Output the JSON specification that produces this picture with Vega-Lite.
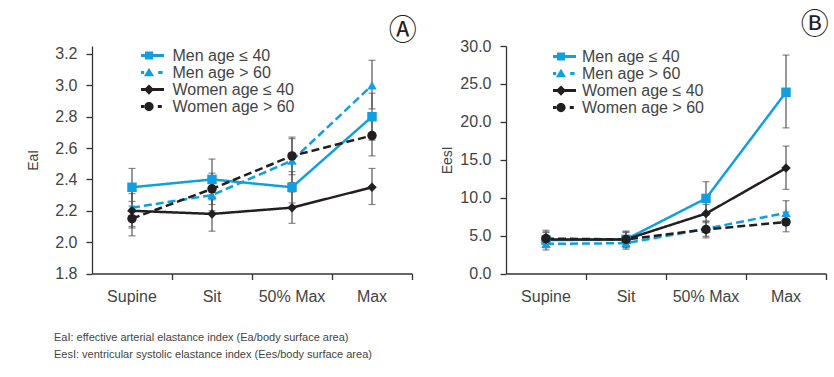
{
  "$schema": "https://vega.github.io/schema/vega-lite/v6.json",
  "padding": {"left": 26, "top": 12, "right": 0, "bottom": 0},
  "background": "white",
  "datasets": {
    "eai": [
      {"pos": "Supine", "series": "Men age ≤ 40", "v": 2.35, "lo": 2.23, "hi": 2.47},
      {"pos": "Sit", "series": "Men age ≤ 40", "v": 2.40, "lo": 2.27, "hi": 2.53},
      {"pos": "50% Max", "series": "Men age ≤ 40", "v": 2.35, "lo": 2.25, "hi": 2.45},
      {"pos": "Max", "series": "Men age ≤ 40", "v": 2.80, "lo": 2.65, "hi": 2.95},
      {"pos": "Supine", "series": "Men age > 60", "v": 2.22, "lo": 2.10, "hi": 2.34},
      {"pos": "Sit", "series": "Men age > 60", "v": 2.30, "lo": 2.20, "hi": 2.40},
      {"pos": "50% Max", "series": "Men age > 60", "v": 2.52, "lo": 2.38, "hi": 2.66},
      {"pos": "Max", "series": "Men age > 60", "v": 3.00, "lo": 2.85, "hi": 3.16},
      {"pos": "Supine", "series": "Women age ≤ 40", "v": 2.20, "lo": 2.09, "hi": 2.31},
      {"pos": "Sit", "series": "Women age ≤ 40", "v": 2.18, "lo": 2.07, "hi": 2.29},
      {"pos": "50% Max", "series": "Women age ≤ 40", "v": 2.22, "lo": 2.12, "hi": 2.32},
      {"pos": "Max", "series": "Women age ≤ 40", "v": 2.35, "lo": 2.24, "hi": 2.47},
      {"pos": "Supine", "series": "Women age > 60", "v": 2.15, "lo": 2.04, "hi": 2.26},
      {"pos": "Sit", "series": "Women age > 60", "v": 2.34, "lo": 2.24, "hi": 2.44},
      {"pos": "50% Max", "series": "Women age > 60", "v": 2.55, "lo": 2.43, "hi": 2.67},
      {"pos": "Max", "series": "Women age > 60", "v": 2.68, "lo": 2.55, "hi": 2.81}
    ],
    "eesi": [
      {"pos": "Supine", "series": "Men age ≤ 40", "v": 4.4, "lo": 3.4, "hi": 5.4},
      {"pos": "Sit", "series": "Men age ≤ 40", "v": 4.5, "lo": 3.5, "hi": 5.5},
      {"pos": "50% Max", "series": "Men age ≤ 40", "v": 9.9, "lo": 7.7, "hi": 12.1},
      {"pos": "Max", "series": "Men age ≤ 40", "v": 23.9, "lo": 19.2, "hi": 28.8},
      {"pos": "Supine", "series": "Men age > 60", "v": 3.9, "lo": 3.1, "hi": 4.7},
      {"pos": "Sit", "series": "Men age > 60", "v": 4.0, "lo": 3.2, "hi": 4.8},
      {"pos": "50% Max", "series": "Men age > 60", "v": 5.9, "lo": 4.9, "hi": 6.9},
      {"pos": "Max", "series": "Men age > 60", "v": 8.0, "lo": 6.4, "hi": 9.6},
      {"pos": "Supine", "series": "Women age ≤ 40", "v": 4.5, "lo": 3.5, "hi": 5.5},
      {"pos": "Sit", "series": "Women age ≤ 40", "v": 4.5, "lo": 3.6, "hi": 5.4},
      {"pos": "50% Max", "series": "Women age ≤ 40", "v": 7.9, "lo": 6.7, "hi": 9.1},
      {"pos": "Max", "series": "Women age ≤ 40", "v": 13.9, "lo": 11.1, "hi": 16.8},
      {"pos": "Supine", "series": "Women age > 60", "v": 4.6, "lo": 3.5, "hi": 5.7},
      {"pos": "Sit", "series": "Women age > 60", "v": 4.5, "lo": 3.4, "hi": 5.6},
      {"pos": "50% Max", "series": "Women age > 60", "v": 5.8, "lo": 4.7, "hi": 6.9},
      {"pos": "Max", "series": "Women age > 60", "v": 6.8, "lo": 5.5, "hi": 8.1}
    ]
  },
  "title": {
    "text": ["EaI: effective arterial elastance index (Ea/body surface area)", "EesI: ventricular systolic elastance index (Ees/body surface area)"],
    "orient": "bottom", "anchor": "start", "font": "Liberation Sans", "fontSize": 11, "fontWeight": "normal",
    "color": "#444", "offset": 27, "lineHeight": 17, "dx": 28
  },
  "hconcat": [
    {
      "width": 320, "height": 227.5,
      "data": {"name": "eai"},
      "title": {"text": "Ⓐ", "anchor": "end", "font": "Noto Sans CJK KR", "fontSize": 28, "fontWeight": "normal", "color": "#222", "offset": -0.5, "dx": 4},
      "encoding": {
        "x": {"field": "pos", "type": "nominal", "sort": ["Supine", "Sit", "50% Max", "Max"],
          "scale": {"paddingInner": 0, "paddingOuter": 0},
          "axis": {"title": null, "labelAngle": 0, "bandPosition": 1}}
      },
      "layer": [
        {"mark": {"type": "rule", "color": "#555", "strokeWidth": 1.2},
         "encoding": {"y": {"field": "lo", "type": "quantitative", "scale": {"domain": [1.8, 3.251], "nice": false, "zero": false},
           "axis": {"values": [1.8, 2.0, 2.2, 2.4, 2.6, 2.8, 3.0, 3.2], "format": ".1f", "title": "EaI", "titleX": -52, "labelOverlap": false}},
           "y2": {"field": "hi"}}},
        {"mark": {"type": "tick", "color": "#555", "thickness": 1.2, "size": 7}, "encoding": {"y": {"field": "lo", "type": "quantitative",
           "axis": {"values": [1.8, 2.0, 2.2, 2.4, 2.6, 2.8, 3.0, 3.2], "format": ".1f", "title": "EaI", "titleX": -52, "labelOverlap": false}}}},
        {"mark": {"type": "tick", "color": "#555", "thickness": 1.2, "size": 7}, "encoding": {"y": {"field": "hi", "type": "quantitative",
           "axis": {"values": [1.8, 2.0, 2.2, 2.4, 2.6, 2.8, 3.0, 3.2], "format": ".1f", "title": "EaI", "titleX": -52, "labelOverlap": false}}}},
        {"mark": {"type": "line", "strokeWidth": 2.5},
         "encoding": {"y": {"field": "v", "type": "quantitative",
           "axis": {"values": [1.8, 2.0, 2.2, 2.4, 2.6, 2.8, 3.0, 3.2], "format": ".1f", "title": "EaI", "titleX": -52, "labelOverlap": false}},
           "color": {"field": "series", "type": "nominal", "legend": null, "scale": {"domain": ["Men age ≤ 40", "Men age > 60", "Women age ≤ 40", "Women age > 60"], "range": ["#11a0df", "#11a0df", "#231f20", "#231f20"]}},
           "strokeDash": {"field": "series", "type": "nominal", "legend": null, "scale": {"domain": ["Men age ≤ 40", "Men age > 60", "Women age ≤ 40", "Women age > 60"], "range": [[1, 0], [8, 4], [1, 0], [8, 4]]}}}},
        {"mark": {"type": "point", "filled": true, "opacity": 1, "size": 90},
         "encoding": {"y": {"field": "v", "type": "quantitative",
           "axis": {"values": [1.8, 2.0, 2.2, 2.4, 2.6, 2.8, 3.0, 3.2], "format": ".1f", "title": "EaI", "titleX": -52, "labelOverlap": false}},
           "color": {"field": "series", "type": "nominal", "legend": null, "scale": {"domain": ["Men age ≤ 40", "Men age > 60", "Women age ≤ 40", "Women age > 60"], "range": ["#11a0df", "#11a0df", "#231f20", "#231f20"]}},
           "shape": {"field": "series", "type": "nominal", "legend": null, "scale": {"domain": ["Men age ≤ 40", "Men age > 60", "Women age ≤ 40", "Women age > 60"], "range": ["square", "triangle-up", "diamond", "circle"]}}}},
        {"mark": {"type": "point", "filled": true, "opacity": 0},
         "encoding": {"y": {"field": "v", "type": "quantitative",
           "axis": {"values": [1.8, 2.0, 2.2, 2.4, 2.6, 2.8, 3.0, 3.2], "format": ".1f", "title": "EaI", "titleX": -52, "labelOverlap": false}},
           "color": {"field": "series", "type": "nominal", "scale": {"domain": ["Men age ≤ 40", "Men age > 60", "Women age ≤ 40", "Women age > 60"], "range": ["#11a0df", "#11a0df", "#231f20", "#231f20"]},
             "legend": {"orient": "none", "legendX": 49, "legendY": 2, "title": null, "symbolSize": 256, "labelOffset": 15.5,
               "rowPadding": 0, "clipHeight": 15.2, "padding": 0, "symbolStrokeWidth": 0, "symbolOpacity": 1, "labelLimit": 0}},
           "shape": {"field": "series", "type": "nominal",
             "scale": {"domain": ["Men age ≤ 40", "Men age > 60", "Women age ≤ 40", "Women age > 60"],
               "range": [
                 "M-1.875,-0.19H1.875V0.19H-1.875Z M-0.5,-0.5H0.5V0.5H-0.5Z",
                 "M-1.875,-0.19H-0.6V0.19H-1.875Z M1.15,-0.19H1.7V0.19H1.15Z M0,-0.62L0.64,0.47H-0.64Z",
                 "M-1.875,-0.19H1.875V0.19H-1.875Z M0,-0.64L0.64,0L0,0.64L-0.64,0Z",
                 "M-1.875,-0.19H-0.6V0.19H-1.875Z M1.1,-0.19H1.6V0.19H1.1Z M0.58,0A0.58,0.58 0 1,1 -0.58,0A0.58,0.58 0 1,1 0.58,0Z"]},
             "legend": {"orient": "none", "legendX": 49, "legendY": 2, "title": null, "symbolSize": 256, "labelOffset": 15.5,
               "rowPadding": 0, "clipHeight": 15.2, "padding": 0, "symbolStrokeWidth": 0, "symbolOpacity": 1, "labelLimit": 0}}}}
      ],
      "resolve": {"scale": {"shape": "independent", "color": "independent"}}
    },
    {
      "width": 320, "height": 227.5,
      "data": {"name": "eesi"},
      "title": {"text": "Ⓑ", "anchor": "end", "font": "Noto Sans CJK KR", "fontSize": 28, "fontWeight": "normal", "color": "#222", "offset": -2, "dx": 2},
      "encoding": {
        "x": {"field": "pos", "type": "nominal", "sort": ["Supine", "Sit", "50% Max", "Max"],
          "scale": {"paddingInner": 0, "paddingOuter": 0},
          "axis": {"title": null, "labelAngle": 0, "bandPosition": 1}}
      },
      "layer": [
        {"mark": {"type": "rule", "color": "#555", "strokeWidth": 1.2},
         "encoding": {"y": {"field": "lo", "type": "quantitative", "scale": {"domain": [0, 30], "nice": false},
           "axis": {"values": [0, 5, 10, 15, 20, 25, 30], "format": ".1f", "title": "EesI", "titleX": -52, "labelOverlap": false}},
           "y2": {"field": "hi"}}},
        {"mark": {"type": "tick", "color": "#555", "thickness": 1.2, "size": 7}, "encoding": {"y": {"field": "lo", "type": "quantitative",
           "axis": {"values": [0, 5, 10, 15, 20, 25, 30], "format": ".1f", "title": "EesI", "titleX": -52, "labelOverlap": false}}}},
        {"mark": {"type": "tick", "color": "#555", "thickness": 1.2, "size": 7}, "encoding": {"y": {"field": "hi", "type": "quantitative",
           "axis": {"values": [0, 5, 10, 15, 20, 25, 30], "format": ".1f", "title": "EesI", "titleX": -52, "labelOverlap": false}}}},
        {"mark": {"type": "line", "strokeWidth": 2.5},
         "encoding": {"y": {"field": "v", "type": "quantitative",
           "axis": {"values": [0, 5, 10, 15, 20, 25, 30], "format": ".1f", "title": "EesI", "titleX": -52, "labelOverlap": false}},
           "color": {"field": "series", "type": "nominal", "legend": null, "scale": {"domain": ["Men age ≤ 40", "Men age > 60", "Women age ≤ 40", "Women age > 60"], "range": ["#11a0df", "#11a0df", "#231f20", "#231f20"]}},
           "strokeDash": {"field": "series", "type": "nominal", "legend": null, "scale": {"domain": ["Men age ≤ 40", "Men age > 60", "Women age ≤ 40", "Women age > 60"], "range": [[1, 0], [8, 4], [1, 0], [8, 4]]}}}},
        {"mark": {"type": "point", "filled": true, "opacity": 1, "size": 90},
         "encoding": {"y": {"field": "v", "type": "quantitative",
           "axis": {"values": [0, 5, 10, 15, 20, 25, 30], "format": ".1f", "title": "EesI", "titleX": -52, "labelOverlap": false}},
           "color": {"field": "series", "type": "nominal", "legend": null, "scale": {"domain": ["Men age ≤ 40", "Men age > 60", "Women age ≤ 40", "Women age > 60"], "range": ["#11a0df", "#11a0df", "#231f20", "#231f20"]}},
           "shape": {"field": "series", "type": "nominal", "legend": null, "scale": {"domain": ["Men age ≤ 40", "Men age > 60", "Women age ≤ 40", "Women age > 60"], "range": ["square", "triangle-up", "diamond", "circle"]}}}},
        {"mark": {"type": "point", "filled": true, "opacity": 0},
         "encoding": {"y": {"field": "v", "type": "quantitative",
           "axis": {"values": [0, 5, 10, 15, 20, 25, 30], "format": ".1f", "title": "EesI", "titleX": -52, "labelOverlap": false}},
           "color": {"field": "series", "type": "nominal", "scale": {"domain": ["Men age ≤ 40", "Men age > 60", "Women age ≤ 40", "Women age > 60"], "range": ["#11a0df", "#11a0df", "#231f20", "#231f20"]},
             "legend": {"orient": "none", "legendX": 47, "legendY": 3, "title": null, "symbolSize": 256, "labelOffset": 13,
               "rowPadding": 0, "clipHeight": 15.2, "padding": 0, "symbolStrokeWidth": 0, "symbolOpacity": 1, "labelLimit": 0}},
           "shape": {"field": "series", "type": "nominal",
             "scale": {"domain": ["Men age ≤ 40", "Men age > 60", "Women age ≤ 40", "Women age > 60"],
               "range": [
                 "M-1.875,-0.19H1.875V0.19H-1.875Z M-0.5,-0.5H0.5V0.5H-0.5Z",
                 "M-1.875,-0.19H-0.6V0.19H-1.875Z M1.15,-0.19H1.7V0.19H1.15Z M0,-0.62L0.64,0.47H-0.64Z",
                 "M-1.875,-0.19H1.875V0.19H-1.875Z M0,-0.64L0.64,0L0,0.64L-0.64,0Z",
                 "M-1.875,-0.19H-0.6V0.19H-1.875Z M1.1,-0.19H1.6V0.19H1.1Z M0.58,0A0.58,0.58 0 1,1 -0.58,0A0.58,0.58 0 1,1 0.58,0Z"]},
             "legend": {"orient": "none", "legendX": 47, "legendY": 3, "title": null, "symbolSize": 256, "labelOffset": 13,
               "rowPadding": 0, "clipHeight": 15.2, "padding": 0, "symbolStrokeWidth": 0, "symbolOpacity": 1, "labelLimit": 0}}}}
      ],
      "resolve": {"scale": {"shape": "independent", "color": "independent"}}
    }
  ],
  "spacing": 23,
  "config": {
    "view": {"stroke": null},
    "font": "Liberation Sans",
    "axis": {"grid": false, "domainColor": "#333", "tickColor": "#333", "domainWidth": 1.3, "tickWidth": 1.3, "tickSize": 6,
      "labelFont": "Liberation Sans", "labelFontSize": 16, "labelColor": "#444", "labelPadding": 9,
      "titleFont": "Liberation Sans", "titleFontSize": 14, "titleFontWeight": "normal", "titleColor": "#444"},
    "legend": {"labelFont": "Liberation Sans", "labelFontSize": 16, "labelColor": "#444"}
  }
}
